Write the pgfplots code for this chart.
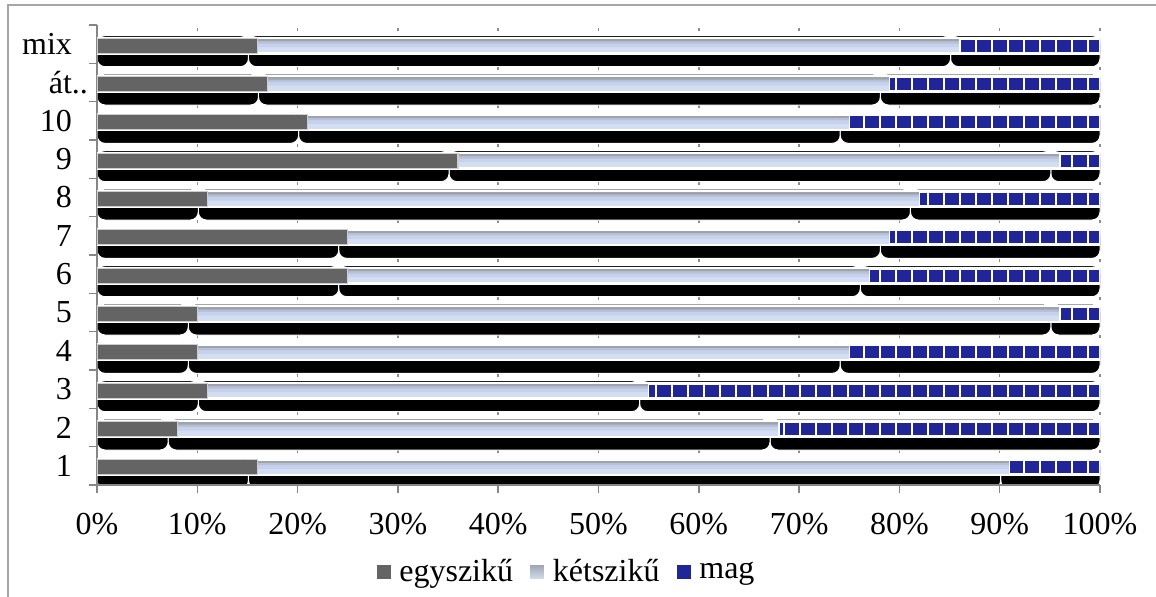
\documentclass[border=0pt]{standalone}
\usepackage{fontspec}
\setmainfont{Liberation Serif}
\usepackage{pgfplots}
\usepackage{pgfplotstable}
\pgfplotsset{compat=1.18}
\usetikzlibrary{patterns.meta}
\definecolor{egyc}{RGB}{100,100,100}
\definecolor{ketB}{RGB}{212,222,242}
\definecolor{ketM}{RGB}{198,210,236}
\definecolor{ketU}{RGB}{182,192,214}
\definecolor{ketT}{RGB}{158,163,174}
\definecolor{magc}{RGB}{32,38,152}
\definecolor{axgray}{RGB}{134,134,134}
\definecolor{gridgray}{RGB}{140,140,140}
\definecolor{framegray}{RGB}{166,166,166}

% y: category position (1 = bottom ... 12 = mix)
% egy, ket, mag: shares in %; cum = egy+ket (end of kétszikű); magS: shadow length
\pgfplotstableread{
y egy ket mag cum tot magS
1 16 75 9 91 100 9.9
2 8 60 32 68 100 32.9
3 11 44 45 55 100 45.9
4 10 65 25 75 100 25.9
5 10 86 4 96 100 4.9
6 25 52 23 77 100 23.9
7 25 54 21 79 100 21.9
8 11 71 18 82 100 18.9
9 36 60 4 96 100 4.9
10 21 54 25 75 100 25.9
11 17 62 21 79 100 21.9
12 16 70 14 86 100 14.9
}\data

\begin{document}
\begin{tikzpicture}
\useasboundingbox (-48.5pt,-55.5pt) rectangle (529.5pt,242.5pt);
\begin{scope}
\clip (-48.5pt,-55.5pt) rectangle (529.5pt,242.5pt);
\draw[framegray, line width=1pt] (-44.5pt,-100pt) -- (-44.5pt,240pt) -- (600pt,240pt);
% shadow axis
\begin{axis}[
  scale only axis, width=501.5pt, height=230pt,
  xmin=0.9, xmax=100.9, ymin=0.5, ymax=12.5,
  xbar stacked, bar width=15.5pt, bar shift=-3.5pt,
  axis line style={draw=none},
  xtick={0.9,10.9,20.9,30.9,40.9,50.9,60.9,70.9,80.9,90.9,100.9},
  xticklabels={}, ytick=\empty,
  major tick length=0pt,
  xmajorgrids, grid style={gridgray, line width=0.75pt, dash pattern=on 1.5pt off 17.6667pt, dash phase=3.25pt},
]
\addplot[fill=black, draw=white, line width=0.5pt, rounded corners=4pt] table[x=egy,y=y]{\data};
\addplot[fill=black, draw=white, line width=0.5pt, rounded corners=4pt] table[x=ket,y=y]{\data};
\addplot[fill=black, draw=white, line width=0.5pt, rounded corners=4pt] table[x=magS,y=y]{\data};
\end{axis}
% main axis
\begin{axis}[
  scale only axis, width=501.5pt, height=230pt,
  xmin=0, xmax=100, ymin=0.5, ymax=12.5,
  xbar,
  axis x line*=bottom, axis y line*=left,
  axis line style={axgray, line width=0.75pt},
  tick align=outside, major tick length=4pt,
  tick style={axgray, line width=0.75pt},
  xtick={0,10,20,30,40,50,60,70,80,90,100},
  xticklabels={0\%,10\%,20\%,30\%,40\%,50\%,60\%,70\%,80\%,90\%,100\%},
  xticklabel style={yshift=-6.5pt},
  ytick={0.5,1.5,2.5,3.5,4.5,5.5,6.5,7.5,8.5,9.5,10.5,11.5,12.5},
  yticklabels={1,2,3,4,5,6,7,8,9,10,át\rlap{..},mix,{}},
  yticklabel style={yshift=9.58pt, xshift=-5pt},
  tick label style={font=\fontsize{16}{19}\selectfont},
  legend image code/.code={\draw[#1] (0pt,-3.75pt) rectangle (7.5pt,3.75pt); \path (9.5pt,0pt);},
  legend columns=3,
  legend style={at={(axis description cs:0.4686,-0.189)}, anchor=center, draw=none, fill=none,
    font=\fontsize{16}{19}\selectfont,
    /tikz/every even column/.append style={column sep=6pt}},
]
% mag (full length, covered on the left by the other bars)
\addplot[forget plot, bar width=7.5pt, bar shift=-0.75pt, fill=magc, draw=white, line width=1.4pt,
  postaction={pattern={Lines[angle=90,distance=8pt,line width=1.35pt]}, pattern color=white}] table[x=tot,y=y]{\data};
% kétszikű (to cumulative end), with vertical gradient bands
\addplot[forget plot, bar width=7.5pt, bar shift=-0.75pt, fill=ketB, draw=none] table[x=cum,y=y]{\data};
\addplot[forget plot, bar width=4.2pt, bar shift=0.6pt, fill=ketM, draw=none] table[x=cum,y=y]{\data};
\addplot[forget plot, bar width=2.4pt, bar shift=1.5pt, fill=ketU, draw=none] table[x=cum,y=y]{\data};
\addplot[forget plot, bar width=1.2pt, bar shift=2.1pt, fill=ketT, draw=none] table[x=cum,y=y]{\data};
\addplot[forget plot, bar width=7.5pt, bar shift=-0.75pt, fill=none, draw=white, line width=0.7pt] table[x=cum,y=y]{\data};
% egyszikű
\addplot[forget plot, bar width=7.5pt, bar shift=-0.75pt, fill=egyc, draw={rgb,255:red,205;green,205;blue,205}, line width=0.6pt] table[x=egy,y=y]{\data};
\addlegendimage{fill=egyc, draw=white, line width=0.4pt}
\addlegendentry{egyszikű}
\addlegendimage{top color=ketT, middle color=ketM, bottom color=ketB, draw=white, line width=0.4pt}
\addlegendentry{kétszikű}
\addlegendimage{fill=magc, draw=white, line width=0.4pt}
\addlegendentry{mag}
\end{axis}
\end{scope}
\end{tikzpicture}
\end{document}
